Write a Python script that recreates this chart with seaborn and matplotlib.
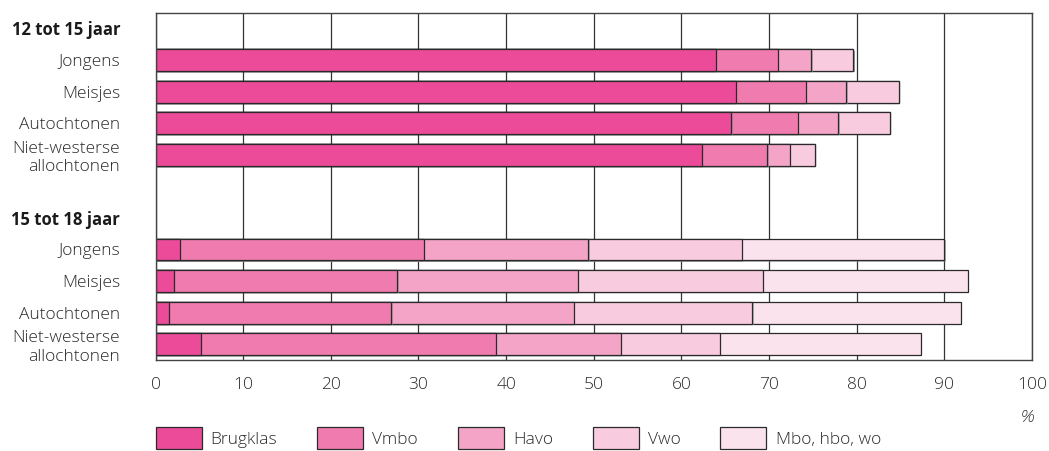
import numpy as np
import pandas as pd
import matplotlib
matplotlib.use("Agg")
import matplotlib.pyplot as plt
import matplotlib.patheffects as pe
from matplotlib.patches import Patch
import seaborn as sns

# data (percentages per school type)
groups = ["12 tot 15 jaar", "15 tot 18 jaar"]
subgroups = ["Jongens", "Meisjes", "Autochtonen", "Niet-westerse\nallochtonen"]
levels = ["Brugklas", "Vmbo", "Havo", "Vwo", "Mbo, hbo, wo"]

brugklas = [63.9, 66.2, 65.7, 62.3, 2.8, 2.1, 1.5, 5.2]
vmbo = [7.1, 8.0, 7.6, 7.5, 27.8, 25.5, 25.4, 33.6]
havo = [3.8, 4.6, 4.6, 2.6, 18.8, 20.6, 20.8, 14.3]
vwo = [4.8, 6.0, 5.9, 2.8, 17.5, 21.1, 20.4, 11.3]
mbo_hbo_wo = [0.0, 0.0, 0.0, 0.0, 23.1, 23.4, 23.8, 22.9]

colors = ["#EC4B9A", "#F07BAE", "#F3A4C7", "#F8CBDF", "#FBE3EE"]
x_ticks = [0, 10, 20, 30, 40, 50, 60, 70, 80, 90, 100]

FS = 12.5
TXT = "#2a2a2a"

# row keys, with header and blank rows in between
row_order = []
row_labels = []
row_keys = []
for gi, g in enumerate(groups):
    if gi > 0:
        row_order.append("blank")
        row_labels.append("")
    row_order.append(f"head{gi}")
    row_labels.append(g)
    for s in subgroups:
        key = f"{gi}-{s}"
        row_order.append(key)
        row_labels.append(s)
        row_keys.append(key)

series = [brugklas, vmbo, havo, vwo, mbo_hbo_wo]
df = pd.DataFrame({"row": row_keys})
cum = np.zeros(len(row_keys))
for name, vals in zip(levels, series):
    cum = cum + np.array(vals)
    df[name] = cum

sns.set_theme(style="white")
plt.rcParams["font.family"] = ["Open Sans", "DejaVu Sans"]
plt.rcParams["font.weight"] = 300

fig = plt.figure(figsize=(10.49, 4.51), dpi=100)
ax = fig.add_axes([155.5 / 1049, 1 - 360 / 451, (1032 - 155.5) / 1049, (360 - 12.7) / 451])

shadow = [pe.withSimplePatchShadow(offset=(1.0, -1.0), shadow_rgbFace="0.55", alpha=0.6)]
for name, col in reversed(list(zip(levels, colors))):
    sub = df[df[name] > 0]
    sns.barplot(data=sub, y="row", x=name, order=row_order, orient="h",
                color=col, saturation=1, width=0.69, edgecolor="#2a2a2a",
                linewidth=0.9, ax=ax)
for p in ax.patches:
    p.set_path_effects(shadow)

ax.set_xlim(0, 100)
ax.set_ylim(len(row_order) - 0.5, -0.5)
ax.set_xticks(x_ticks)
ax.set_xticklabels([str(t) for t in x_ticks], fontsize=FS, color=TXT)
ax.set_yticks(range(len(row_order)))
ax.set_yticklabels(row_labels, fontsize=FS, color=TXT)
for lab, txt in zip(ax.get_yticklabels(), row_labels):
    if txt in groups:
        lab.set_fontweight("bold")
        lab.set_fontsize(12)
        lab.set_color("#1a1a1a")
ax.tick_params(axis="y", length=0, pad=25.5)
ax.tick_params(axis="x", length=0, pad=12.5)
ax.set_xlabel("")
ax.set_ylabel("")

ax.xaxis.grid(True, color="#333333", linewidth=0.9)
ax.yaxis.grid(False)
ax.set_axisbelow(True)
for sp in ax.spines.values():
    sp.set_color("#444444")
    sp.set_linewidth(1.0)

fig.text(1027 / 1049, 1 - 418 / 451, "%", ha="center", va="center",
         fontsize=FS, style="italic", color=TXT)

handles = [Patch(facecolor=c, edgecolor="#2a2a2a", linewidth=0.9) for c in colors]
fig.legend(handles, levels, loc="center left", bbox_to_anchor=(155.5 / 1049, 1 - 438 / 451),
           ncol=5, frameon=False, fontsize=FS, borderpad=0, borderaxespad=0,
           handlelength=2.65, handleheight=1.66, handletextpad=0.52, columnspacing=2.3,
           labelcolor=TXT)

fig.savefig("out.png", dpi=100)
